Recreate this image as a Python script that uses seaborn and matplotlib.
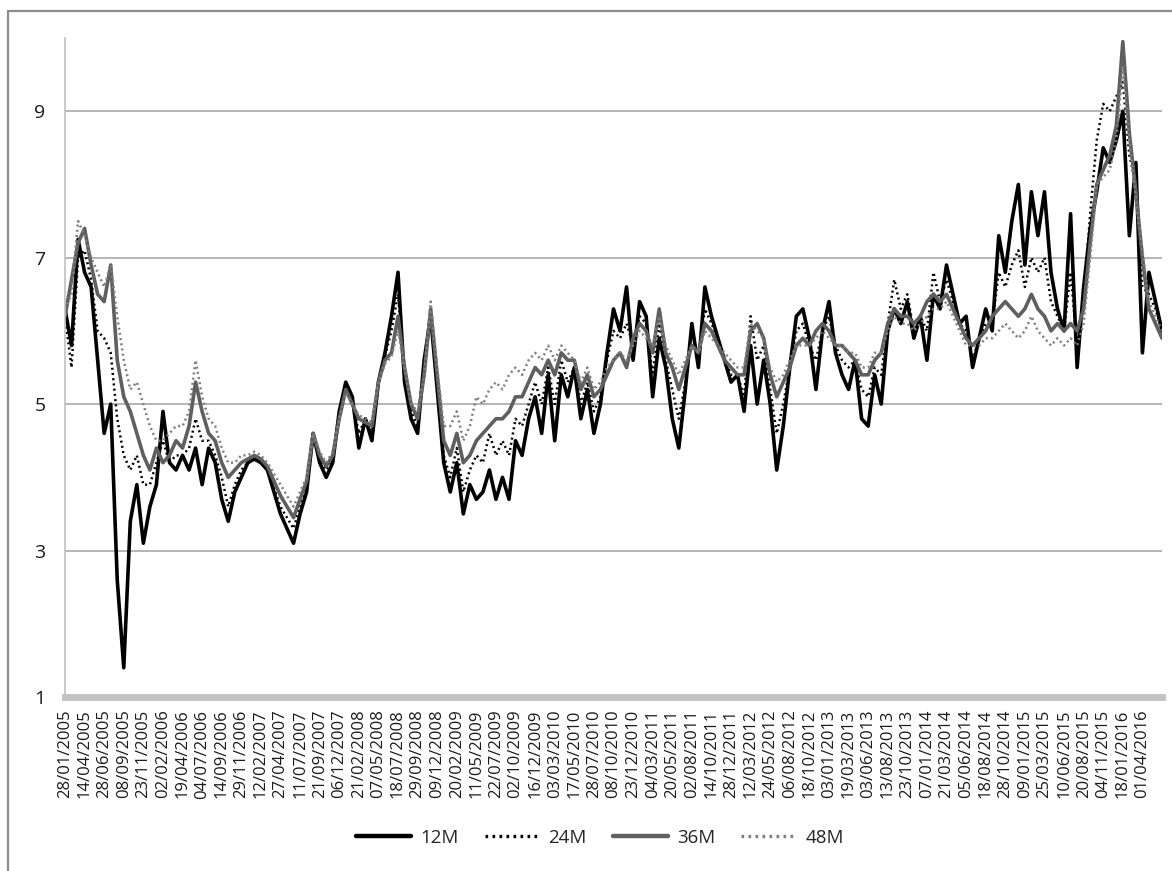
import pandas as pd
import numpy as np
import matplotlib
matplotlib.use('Agg')
import matplotlib.pyplot as plt
from matplotlib.lines import Line2D
import seaborn as sns

# ------------------------------------------------------------
# Données (3 points par intervalle d'étiquette)
# ------------------------------------------------------------
datas = ['28/01/2005', '14/04/2005', '28/06/2005', '08/09/2005', '23/11/2005',
         '02/02/2006', '19/04/2006', '04/07/2006', '14/09/2006', '29/11/2006',
         '12/02/2007', '27/04/2007', '11/07/2007', '21/09/2007', '06/12/2007',
         '21/02/2008', '07/05/2008', '18/07/2008', '29/09/2008', '09/12/2008',
         '20/02/2009', '11/05/2009', '22/07/2009', '02/10/2009', '16/12/2009',
         '03/03/2010', '17/05/2010', '28/07/2010', '08/10/2010', '23/12/2010',
         '04/03/2011', '20/05/2011', '02/08/2011', '14/10/2011', '28/12/2011',
         '12/03/2012', '24/05/2012', '06/08/2012', '18/10/2012', '03/01/2013',
         '19/03/2013', '03/06/2013', '13/08/2013', '23/10/2013', '07/01/2014',
         '21/03/2014', '05/06/2014', '18/08/2014', '28/10/2014', '09/01/2015',
         '25/03/2015', '10/06/2015', '20/08/2015', '04/11/2015', '18/01/2016',
         '01/04/2016']
passo = 3  # pontos por intervalo de rótulo

m12 = [6.3, 5.8, 7.25, 6.8, 6.6, 5.6, 4.6, 5.0, 2.6, 1.4,
       3.4, 3.9, 3.1, 3.6, 3.9, 4.9, 4.2, 4.1, 4.3, 4.1,
       4.4, 3.9, 4.4, 4.2, 3.7, 3.4, 3.8, 4.0, 4.2, 4.25,
       4.2, 4.1, 3.8, 3.5, 3.3, 3.1, 3.5, 3.8, 4.6, 4.2,
       4.0, 4.2, 4.9, 5.3, 5.1, 4.4, 4.8, 4.5, 5.3, 5.7,
       6.2, 6.8, 5.3, 4.8, 4.6, 5.6, 6.2, 5.2, 4.2, 3.8,
       4.2, 3.5, 3.9, 3.7, 3.8, 4.1, 3.7, 4.0, 3.7, 4.5,
       4.3, 4.8, 5.1, 4.6, 5.4, 4.5, 5.4, 5.1, 5.5, 4.8,
       5.2, 4.6, 5.0, 5.7, 6.3, 6.0, 6.6, 5.6, 6.4, 6.2,
       5.1, 5.9, 5.5, 4.8, 4.4, 5.2, 6.1, 5.5, 6.6, 6.2,
       5.9, 5.6, 5.3, 5.4, 4.9, 5.8, 5.0, 5.6, 5.0, 4.1,
       4.7, 5.5, 6.2, 6.3, 5.9, 5.2, 6.0, 6.4, 5.7, 5.4,
       5.2, 5.6, 4.8, 4.7, 5.4, 5.0, 6.0, 6.3, 6.1, 6.4,
       5.9, 6.2, 5.6, 6.5, 6.3, 6.9, 6.5, 6.1, 6.2, 5.5,
       5.9, 6.3, 6.0, 7.3, 6.8, 7.5, 8.0, 6.9, 7.9, 7.3,
       7.9, 6.8, 6.3, 6.0, 7.6, 5.5, 6.6, 7.4, 7.9, 8.5,
       8.3, 8.6, 9.0, 7.3, 8.3, 5.7, 6.8, 6.4, 6.0]

m24 = [6.2, 5.5, 7.0, 7.1, 6.7, 6.0, 5.9, 5.7, 4.8, 4.3,
       4.1, 4.3, 3.9, 3.9, 4.2, 4.5, 4.2, 4.3, 4.3, 4.4,
       4.8, 4.5, 4.5, 4.3, 4.0, 3.6, 3.9, 4.1, 4.2, 4.25,
       4.2, 4.1, 3.85, 3.6, 3.45, 3.3, 3.6, 3.9, 4.6, 4.25,
       4.1, 4.25, 4.85, 5.25, 5.05, 4.6, 4.8, 4.6, 5.3, 5.65,
       6.0, 6.5, 5.4, 4.9, 4.7, 5.5, 6.3, 5.3, 4.3, 4.0,
       4.4, 3.8, 4.1, 4.3, 4.2, 4.6, 4.3, 4.5, 4.3, 4.8,
       4.7, 5.0, 5.3, 5.0, 5.5, 5.0, 5.6, 5.3, 5.5, 5.0,
       5.3, 4.9, 5.1, 5.6, 6.0, 5.9, 6.1, 5.8, 6.2, 6.1,
       5.4, 6.1, 5.6, 5.2, 4.8, 5.3, 6.0, 5.6, 6.3, 6.1,
       5.9, 5.6, 5.4, 5.4, 5.1, 6.2, 5.6, 5.8, 5.2, 4.6,
       5.0, 5.5, 6.0, 6.1, 5.8, 5.6, 6.0, 6.2, 5.8, 5.6,
       5.5, 5.6, 5.2, 5.1, 5.5, 5.4, 6.1, 6.7, 6.3, 6.5,
       6.0, 6.2, 6.0, 6.8, 6.4, 6.7, 6.4, 6.1, 6.0, 5.6,
       5.9, 6.1, 6.1, 6.8, 6.6, 6.9, 7.1, 6.6, 7.0, 6.8,
       7.0, 6.4, 6.2, 6.0, 6.8, 5.8, 6.4, 7.6, 8.6, 9.1,
       9.0, 9.2, 9.4, 8.4, 8.0, 6.6, 6.5, 6.3, 6.0]

m36 = [6.2, 6.7, 7.2, 7.4, 6.9, 6.5, 6.4, 6.9, 5.6, 5.1,
       4.9, 4.6, 4.3, 4.1, 4.4, 4.2, 4.3, 4.5, 4.4, 4.7,
       5.3, 4.9, 4.6, 4.5, 4.2, 4.0, 4.1, 4.2, 4.25, 4.3,
       4.25, 4.15, 3.95, 3.75, 3.6, 3.45, 3.7, 3.95, 4.6, 4.3,
       4.15, 4.3, 4.8, 5.2, 5.0, 4.8, 4.75, 4.7, 5.3, 5.6,
       5.7, 6.2, 5.5, 5.0, 4.8, 5.4, 6.3, 5.4, 4.5, 4.3,
       4.6, 4.2, 4.3, 4.5, 4.6, 4.7, 4.8, 4.8, 4.9, 5.1,
       5.1, 5.3, 5.5, 5.4, 5.6, 5.4, 5.7, 5.6, 5.6, 5.2,
       5.4, 5.1, 5.2, 5.4, 5.6, 5.7, 5.5, 5.9, 6.1, 6.0,
       5.7, 6.3, 5.7, 5.5, 5.2, 5.5, 5.8, 5.7, 6.1, 6.0,
       5.8, 5.6, 5.5, 5.4, 5.4, 6.0, 6.1, 5.9, 5.4, 5.1,
       5.3, 5.5, 5.8, 5.9, 5.8, 6.0, 6.1, 6.0, 5.8, 5.8,
       5.7, 5.6, 5.4, 5.4, 5.6, 5.7, 6.1, 6.3, 6.2, 6.2,
       6.1, 6.2, 6.4, 6.5, 6.4, 6.5, 6.3, 6.1, 5.9, 5.8,
       5.9, 6.0, 6.2, 6.3, 6.4, 6.3, 6.2, 6.3, 6.5, 6.3,
       6.2, 6.0, 6.1, 6.0, 6.1, 6.0, 6.3, 7.2, 8.0, 8.2,
       8.4, 8.8, 9.95, 8.7, 7.9, 7.0, 6.3, 6.1, 5.9]

m48 = [6.3, 6.5, 7.5, 7.3, 7.0, 6.8, 6.6, 6.9, 6.2, 5.6,
       5.2, 5.3, 5.0, 4.7, 4.5, 4.5, 4.6, 4.7, 4.7, 4.9,
       5.6, 5.1, 4.8, 4.7, 4.4, 4.2, 4.2, 4.3, 4.3, 4.35,
       4.3, 4.2, 4.05, 3.9, 3.75, 3.6, 3.8, 4.0, 4.6, 4.35,
       4.2, 4.35, 4.8, 5.15, 5.0, 4.85, 4.8, 4.75, 5.3, 5.55,
       5.65, 6.0, 5.5, 5.0, 4.9, 5.4, 6.4, 5.5, 4.7, 4.7,
       4.9, 4.5, 4.7, 5.1, 5.0, 5.2, 5.3, 5.2, 5.4, 5.5,
       5.4, 5.6, 5.7, 5.6, 5.8, 5.6, 5.8, 5.7, 5.6, 5.3,
       5.5, 5.2, 5.3, 5.5, 5.6, 5.7, 5.6, 5.8, 6.0, 5.9,
       5.8, 6.2, 5.8, 5.6, 5.4, 5.6, 5.8, 5.7, 6.0, 5.9,
       5.8, 5.7, 5.6, 5.5, 5.5, 6.1, 6.0, 5.9, 5.5, 5.3,
       5.4, 5.6, 5.8, 5.8, 5.8, 5.9, 6.0, 5.9, 5.8, 5.8,
       5.7, 5.7, 5.5, 5.5, 5.7, 5.7, 6.0, 6.2, 6.1, 6.1,
       6.0, 6.1, 6.2, 6.3, 6.3, 6.4, 6.2, 6.0, 5.8, 5.8,
       5.8, 5.9, 5.9, 6.0, 6.1, 6.0, 5.9, 6.0, 6.2, 6.0,
       5.9, 5.8, 5.9, 5.8, 5.9, 5.8, 6.1, 7.0, 8.0, 8.1,
       8.2, 8.6, 9.6, 8.6, 7.8, 7.1, 6.4, 6.2, 6.0]

series = {'12M': m12, '24M': m24, '36M': m36, '48M': m48}
estilos = {
    '12M': dict(color='#000000', lw=2.6, ls='-'),
    '24M': dict(color='#000000', lw=1.8, ls=(0, (0.8, 1.3))),
    '36M': dict(color='#5f5f5f', lw=2.6, ls='-'),
    '48M': dict(color='#7f7f7f', lw=1.8, ls=(0, (0.8, 1.3))),
}

df = pd.concat([pd.DataFrame({'idx': np.arange(len(v)), 'valor': v, 'serie': k})
                for k, v in series.items()], ignore_index=True)

# ------------------------------------------------------------
# Figura
# ------------------------------------------------------------
sns.set_style('white')
plt.rcParams['font.family'] = ['Open Sans', 'DejaVu Sans']

W, H = 1172, 871
fig = plt.figure(figsize=(W / 100, H / 100), dpi=100)
ax = fig.add_axes([65 / W, 1 - 697 / H, (1162 - 65) / W, (697 - 38) / H])

for nome in series:
    st = estilos[nome]
    sns.lineplot(data=df[df['serie'] == nome], x='idx', y='valor', ax=ax,
                 color=st['color'], linewidth=st['lw'], linestyle=st['ls'],
                 label=nome, legend=False)

ax.set_xlim(0, len(m12) - 1)
ax.set_ylim(1, 10)
ax.set_yticks([1, 3, 5, 7, 9])
ax.set_xticks(np.arange(len(datas)) * passo)
ax.set_xticklabels(datas, rotation=90, fontsize=12, color='#1a1a1a')
ax.tick_params(axis='y', labelsize=14, colors='#1a1a1a', length=6,
               color='#a6a6a6', width=1, pad=8)
ax.tick_params(axis='x', length=0, pad=9)
ax.set_xlabel('')
ax.set_ylabel('')

for v in [3, 5, 7, 9]:
    ax.axhline(v, color='#a0a0a0', lw=1.1, zorder=0)

for s in ['top', 'right']:
    ax.spines[s].set_visible(False)
ax.spines['left'].set_color('#c0c0c0')
ax.spines['left'].set_linewidth(1.2)
ax.spines['bottom'].set_color('#c3c3c3')
ax.spines['bottom'].set_linewidth(5)
ax.spines['bottom'].set_zorder(5)

handles = [Line2D([], [], color=estilos[n]['color'], lw=estilos[n]['lw'] + 0.6,
                  ls=estilos[n]['ls']) for n in series]
fig.legend(handles, list(series.keys()), loc='center', ncol=4,
           bbox_to_anchor=(0.512, 1 - 838 / H), frameon=False, fontsize=13.5,
           handlelength=2.9, handletextpad=0.5, columnspacing=1.4)

# moldura cinza da figura
fig.add_artist(Line2D([8 / W, 8 / W], [0, 1 - 11 / H], color='#8c8c8c', lw=1.6,
                      transform=fig.transFigure))
fig.add_artist(Line2D([8 / W, 1], [1 - 11 / H, 1 - 11 / H], color='#8c8c8c', lw=1.6,
                      transform=fig.transFigure))

fig.savefig('out.png', dpi=100)
plt.close(fig)
